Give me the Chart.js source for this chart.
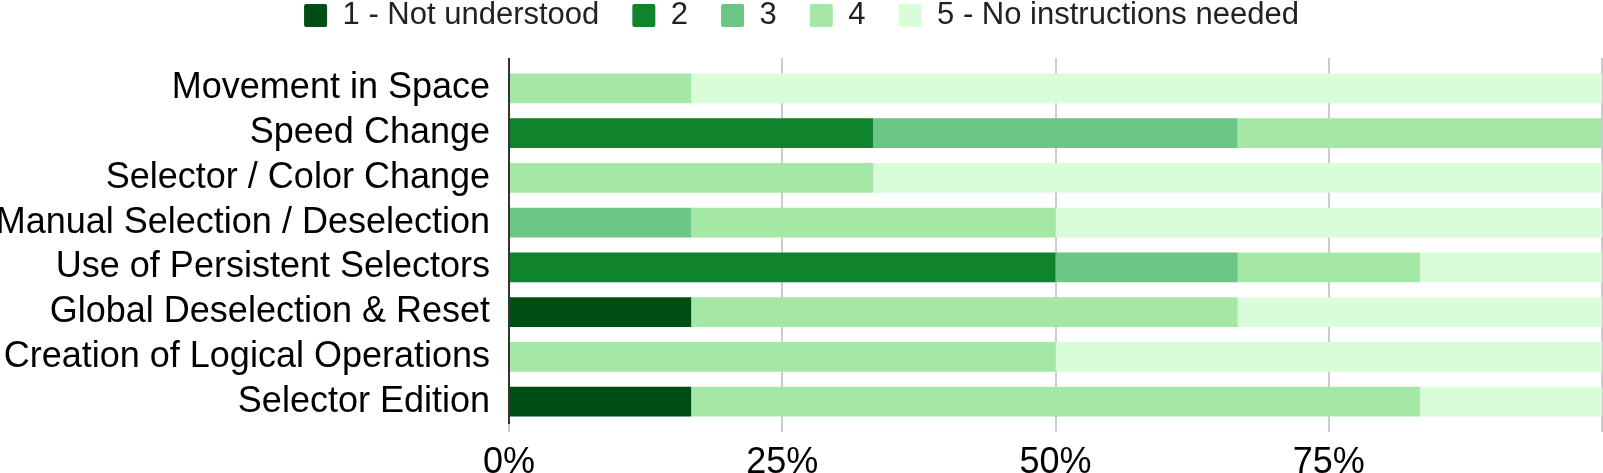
<!DOCTYPE html>
<html>
<head>
<meta charset="utf-8">
<script src="https://cdn.jsdelivr.net/npm/chart.js@4"></script>
<style>
html, body { margin:0; padding:0; background:#fff; overflow:hidden; }
</style>
</head>
<body>
<canvas id="chart" width="1603" height="473"></canvas>
<script>

// categories, top to bottom
const tasks = [
    'Movement in Space',
    'Speed Change',
    'Selector / Color Change',
    'Manual Selection / Deselection',
    'Use of Persistent Selectors',
    'Global Deselection & Reset',
    'Creation of Logical Operations',
    'Selector Edition'
];

// share of answers per rating (%)
const rating1 = [0, 0, 0, 0, 0, 16.67, 0, 16.67];
const rating2 = [0, 33.33, 0, 0, 50, 0, 0, 0];
const rating3 = [0, 33.33, 0, 16.67, 16.67, 0, 0, 0];
const rating4 = [16.67, 33.33, 33.33, 33.33, 16.67, 50, 50, 66.67];
const rating5 = [83.33, 0, 66.67, 50, 16.67, 33.33, 50, 16.67];

const ratingNames = ['1 - Not understood', '2', '3', '4', '5 - No instructions needed'];
const ratingColors = ['#004d15', '#0f842d', '#6bc584', '#a5e8a5', '#d9fdd9'];

const xTicks = [0, 25, 50, 75, 100];

const FONT = '"Liberation Sans", Arial, sans-serif';

const series = [rating1, rating2, rating3, rating4, rating5];

const ctx = document.getElementById('chart');

new Chart(ctx, {

    type: 'bar',

    data: {
        labels: tasks,
        datasets: series.map((values, i) => ({
            label: ratingNames[i],
            data: values,
            backgroundColor: ratingColors[i],
            borderWidth: 0,
            barPercentage: 0.67,
            categoryPercentage: 1
        }))
    },

    options: {

        indexAxis: 'y',
        responsive: false,
        devicePixelRatio: 1,
        animation: false,

        layout: {
            padding: { top: -33, left: 0, right: 0, bottom: 0 }
        },

        plugins: {
            tooltip: { enabled: false },
            legend: {
                position: 'top',
                labels: {
                    boxWidth: 23,
                    boxHeight: 23,
                    padding: 33,
                    useBorderRadius: true,
                    borderRadius: 2,
                    color: '#222',
                    font: { family: FONT, size: 31 }
                }
            }
        },

        scales: {

            x: {
                stacked: true,
                min: 0,
                max: 100,
                afterBuildTicks: scale => {
                    scale.ticks = xTicks.map(v => ({ value: v }));
                },
                afterFit: scale => { scale.height = 49; },
                border: { display: false },
                grid: {
                    color: '#cccccc',
                    lineWidth: 2,
                    tickLength: 8
                },
                ticks: {
                    padding: 1,
                    color: '#000',
                    font: { family: FONT, size: 36, lineHeight: 1.67 },
                    callback: v => v === 100 ? '' : v + '%'
                }
            },

            // top copy of the x axis: lifts the grid a bit above the bars
            // and draws the dark zero line over them
            xTop: {
                axis: 'x',
                position: 'top',
                min: 0,
                max: 100,
                z: 1,
                afterBuildTicks: scale => {
                    scale.ticks = xTicks.map(v => ({ value: v }));
                },
                afterFit: scale => { scale.height = 25; },
                border: { display: false },
                grid: {
                    lineWidth: 2,
                    tickLength: 8,
                    color: c => c.tick && c.tick.value === 0 ? '#333' : 'rgba(0,0,0,0)',
                    tickColor: c => c.tick && c.tick.value === 0 ? '#333' : '#cccccc'
                },
                ticks: { display: false }
            },

            y: {
                stacked: true,
                afterFit: scale => { scale.width = 509; },
                border: { display: false },
                grid: { display: false, drawTicks: false },
                ticks: {
                    autoSkip: false,
                    padding: 19,
                    color: '#000',
                    font: { family: FONT, size: 36 }
                }
            }
        }
    }
});
</script>
</body>
</html>
